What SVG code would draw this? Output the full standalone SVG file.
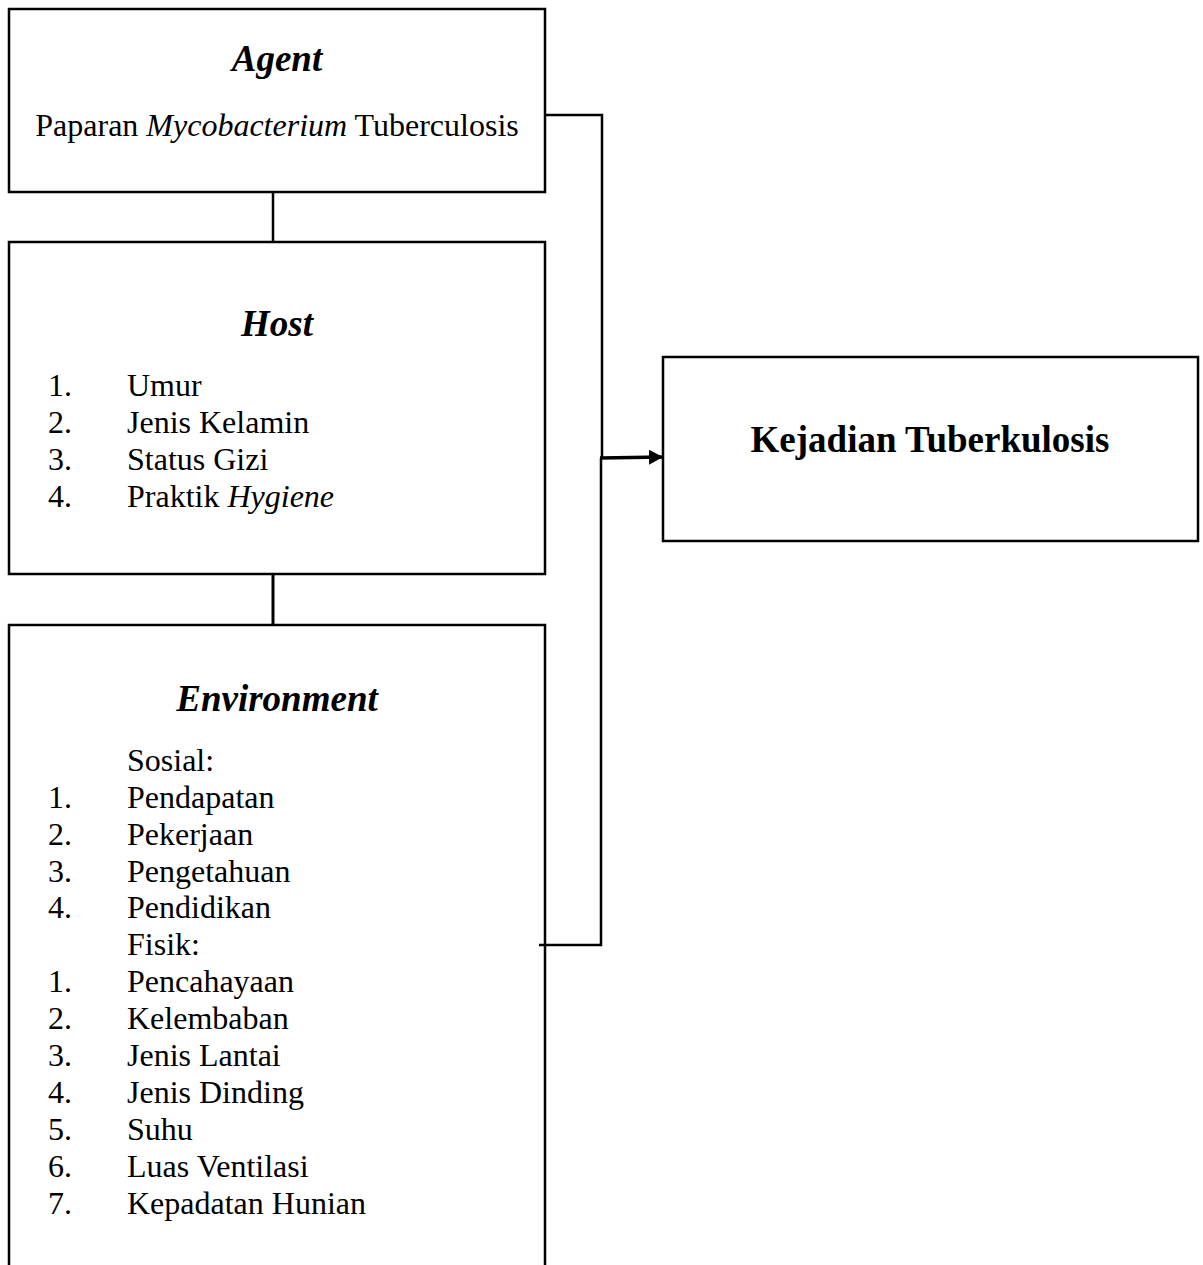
<svg xmlns="http://www.w3.org/2000/svg" width="1203" height="1265" viewBox="0 0 1203 1265">
<style>
.box{fill:#fff;stroke:#000;stroke-width:2.5}
.ln{fill:none;stroke:#000;stroke-width:2.5}
text{font-family:"Liberation Serif","Times New Roman",serif;fill:#000}
.t{font-size:37px;font-weight:bold;font-style:italic}
.b{font-size:32px}
.k{font-size:37px;font-weight:bold}
</style>
<defs>
<marker id="ah" markerWidth="14" markerHeight="15" refX="14" refY="7.5" orient="auto" markerUnits="userSpaceOnUse">
<path d="M0,0 L14,7.5 L0,15 Z" fill="#000"/>
</marker>
</defs>
<g id="connectors">
<line class="ln" x1="273" y1="192" x2="273" y2="242"/>
<line class="ln" x1="273" y1="574" x2="273" y2="625" style="stroke-width:3"/>
<polyline class="ln" points="545,115 602,115 602,458"/>
<polyline class="ln" points="601,458 601,945 539,945"/>
<line class="ln" x1="600" y1="458" x2="663" y2="457" style="stroke-width:3.5" marker-end="url(#ah)"/>
</g>
<g id="agent">
<rect class="box" x="9" y="9" width="536" height="183"/>
<text class="t" x="277" y="71" text-anchor="middle">Agent</text>
<text class="b" x="277" y="136" text-anchor="middle">Paparan <tspan font-style="italic">Mycobacterium</tspan> Tuberculosis</text>
</g>
<g id="host">
<rect class="box" x="9" y="242" width="536" height="332"/>
<text class="t" x="277" y="336" text-anchor="middle">Host</text>
<text class="b" x="48" y="396">1.</text><text class="b" x="127" y="396">Umur</text>
<text class="b" x="48" y="433">2.</text><text class="b" x="127" y="433">Jenis Kelamin</text>
<text class="b" x="48" y="470">3.</text><text class="b" x="127" y="470">Status Gizi</text>
<text class="b" x="48" y="507">4.</text><text class="b" x="127" y="507">Praktik <tspan font-style="italic">Hygiene</tspan></text>
</g>
<g id="environment">
<path class="ln" d="M9,1270 L9,625 L545,625 L545,1270"/>
<text class="t" x="277" y="711" text-anchor="middle">Environment</text>
<text class="b" x="127" y="771">Sosial:</text>
<text class="b" x="48" y="808">1.</text><text class="b" x="127" y="808">Pendapatan</text>
<text class="b" x="48" y="845">2.</text><text class="b" x="127" y="845">Pekerjaan</text>
<text class="b" x="48" y="882">3.</text><text class="b" x="127" y="882">Pengetahuan</text>
<text class="b" x="48" y="918">4.</text><text class="b" x="127" y="918">Pendidikan</text>
<text class="b" x="127" y="955">Fisik:</text>
<text class="b" x="48" y="992">1.</text><text class="b" x="127" y="992">Pencahayaan</text>
<text class="b" x="48" y="1029">2.</text><text class="b" x="127" y="1029">Kelembaban</text>
<text class="b" x="48" y="1066">3.</text><text class="b" x="127" y="1066">Jenis Lantai</text>
<text class="b" x="48" y="1103">4.</text><text class="b" x="127" y="1103">Jenis Dinding</text>
<text class="b" x="48" y="1140">5.</text><text class="b" x="127" y="1140">Suhu</text>
<text class="b" x="48" y="1177">6.</text><text class="b" x="127" y="1177">Luas Ventilasi</text>
<text class="b" x="48" y="1214">7.</text><text class="b" x="127" y="1214">Kepadatan Hunian</text>
</g>
<g id="kejadian">
<rect class="box" x="663" y="357" width="535" height="184"/>
<text class="k" x="930" y="452" text-anchor="middle">Kejadian Tuberkulosis</text>
</g>
</svg>
